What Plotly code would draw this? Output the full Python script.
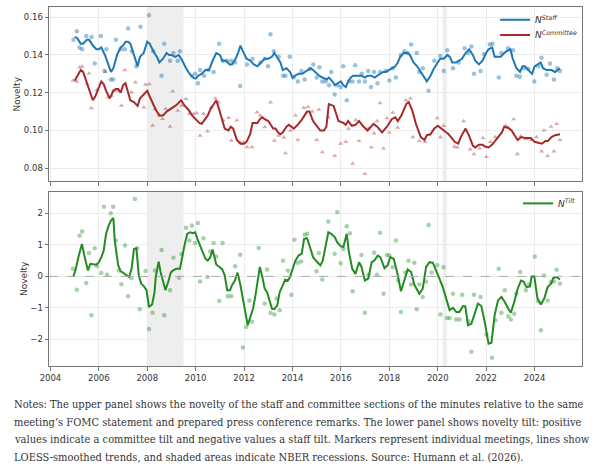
import plotly.graph_objects as go
from plotly.subplots import make_subplots

# LOESS lines (fractional year, value)
staff_line_x = [2005.0, 2005.1, 2005.25, 2005.35, 2005.5, 2005.6, 2005.75, 2005.9, 2006.0, 2006.1, 2006.25, 2006.4,
                2006.5, 2006.6, 2006.75, 2006.9, 2007.0, 2007.1, 2007.2, 2007.3, 2007.45, 2007.6, 2007.7, 2007.85,
                2008.0, 2008.1, 2008.25, 2008.4, 2008.5, 2008.65, 2008.8, 2008.9, 2009.0, 2009.15, 2009.3, 2009.45,
                2009.6, 2009.75, 2009.9, 2010.0, 2010.1, 2010.25, 2010.4, 2010.55, 2010.7, 2010.85, 2011.0, 2011.1,
                2011.25, 2011.4, 2011.5, 2011.65, 2011.75, 2011.85, 2011.95, 2012.1, 2012.25, 2012.4, 2012.55,
                2012.7, 2012.85, 2013.0, 2013.15, 2013.25, 2013.4, 2013.5, 2013.6, 2013.75, 2013.9, 2014.0, 2014.1,
                2014.25, 2014.4, 2014.5, 2014.6, 2014.75, 2014.85, 2015.0, 2015.1, 2015.25, 2015.4, 2015.5, 2015.65,
                2015.75, 2015.85, 2016.0, 2016.1, 2016.2, 2016.3, 2016.4, 2016.5, 2016.6, 2016.75, 2016.85, 2017.0,
                2017.1, 2017.25, 2017.4, 2017.5, 2017.65, 2017.75, 2017.85, 2018.0, 2018.1, 2018.25, 2018.35,
                2018.45, 2018.6, 2018.75, 2018.85, 2019.0, 2019.15, 2019.3, 2019.45, 2019.55, 2019.7, 2019.85,
                2020.0, 2020.1, 2020.25, 2020.4, 2020.5, 2020.6, 2020.75, 2020.85, 2021.0, 2021.15, 2021.3, 2021.45,
                2021.55, 2021.7, 2021.85, 2022.0, 2022.1, 2022.25, 2022.35, 2022.5, 2022.6, 2022.75, 2022.85,
                2023.0, 2023.1, 2023.25, 2023.4, 2023.5, 2023.6, 2023.75, 2023.9, 2024.0, 2024.1, 2024.25, 2024.35,
                2024.5, 2024.7, 2024.85, 2025.05]
staff_line_y = [0.1496, 0.149, 0.146, 0.146, 0.148, 0.148, 0.145, 0.143, 0.143, 0.144, 0.140, 0.135,
                0.131, 0.133, 0.140, 0.144, 0.145, 0.147, 0.147, 0.146, 0.140, 0.134, 0.139, 0.141,
                0.147, 0.146, 0.142, 0.139, 0.136, 0.138, 0.141, 0.140, 0.140, 0.139, 0.140, 0.137,
                0.133, 0.130, 0.128, 0.1275, 0.129, 0.130, 0.132, 0.132, 0.137, 0.141, 0.140, 0.137,
                0.137, 0.135, 0.135, 0.138, 0.141, 0.145, 0.142, 0.138, 0.137, 0.135, 0.134,
                0.136, 0.138, 0.138, 0.139, 0.141, 0.138, 0.136, 0.132, 0.133, 0.131, 0.128, 0.129,
                0.130, 0.130, 0.131, 0.132, 0.133, 0.132, 0.130, 0.129, 0.128, 0.127, 0.128, 0.126,
                0.124, 0.125, 0.126, 0.124, 0.123, 0.126, 0.128, 0.129, 0.129, 0.129, 0.129, 0.128,
                0.129, 0.129, 0.128, 0.129, 0.130, 0.131, 0.131, 0.132, 0.133, 0.134, 0.136,
                0.139, 0.141, 0.141, 0.140, 0.136, 0.134, 0.131, 0.128, 0.126, 0.129, 0.133,
                0.136, 0.138, 0.138, 0.140, 0.139, 0.136, 0.136, 0.137, 0.138, 0.141, 0.143, 0.140,
                0.137, 0.135, 0.137, 0.141, 0.143, 0.144, 0.139, 0.139, 0.139, 0.141, 0.142,
                0.143, 0.138, 0.133, 0.131, 0.134, 0.134, 0.132, 0.130, 0.134, 0.135, 0.136, 0.133,
                0.132, 0.132, 0.131, 0.133]

committee_line_x = [2005.0, 2005.1, 2005.25, 2005.35, 2005.45, 2005.6, 2005.75, 2005.85, 2006.0, 2006.1, 2006.2,
                    2006.3, 2006.45, 2006.6, 2006.7, 2006.8, 2006.9, 2007.0, 2007.1, 2007.2, 2007.3, 2007.45,
                    2007.6, 2007.7, 2007.85, 2008.0, 2008.1, 2008.25, 2008.35, 2008.5, 2008.65, 2008.8, 2008.9,
                    2009.0, 2009.15, 2009.25, 2009.4, 2009.55, 2009.7, 2009.85, 2010.0, 2010.15, 2010.25, 2010.4,
                    2010.5, 2010.6, 2010.75, 2010.85, 2010.95, 2011.1, 2011.2, 2011.35, 2011.45, 2011.55, 2011.7,
                    2011.85, 2012.0, 2012.1, 2012.25, 2012.35, 2012.45, 2012.55, 2012.65, 2012.75, 2012.85, 2013.0,
                    2013.1, 2013.2, 2013.3, 2013.4, 2013.5, 2013.6, 2013.75, 2013.85, 2014.05, 2014.25, 2014.4,
                    2014.6, 2014.7, 2014.85, 2015.0, 2015.15, 2015.3, 2015.4, 2015.5, 2015.7, 2015.9, 2016.1,
                    2016.2, 2016.3, 2016.45, 2016.6, 2016.75, 2016.9, 2017.1, 2017.35, 2017.5, 2017.7, 2017.9,
                    2018.1, 2018.25, 2018.35, 2018.5, 2018.7, 2018.8, 2018.95, 2019.1, 2019.3, 2019.45, 2019.55,
                    2019.7, 2019.85, 2020.0, 2020.15, 2020.3, 2020.45, 2020.55, 2020.7, 2020.85, 2020.95, 2021.15,
                    2021.3, 2021.45, 2021.55, 2021.7, 2021.85, 2021.95, 2022.1, 2022.25, 2022.35, 2022.5, 2022.65,
                    2022.75, 2022.9, 2023.05, 2023.15, 2023.3, 2023.45, 2023.6, 2023.75, 2023.85, 2024.0, 2024.15,
                    2024.3, 2024.45, 2024.55, 2024.7, 2024.85, 2025.05]
committee_line_y = [0.1264, 0.1285, 0.132, 0.131, 0.127, 0.121, 0.116, 0.118, 0.123, 0.126, 0.1245,
                    0.121, 0.117, 0.121, 0.122, 0.122, 0.120, 0.124, 0.125, 0.121, 0.116, 0.115,
                    0.113, 0.117, 0.119, 0.121, 0.118, 0.114, 0.111, 0.108, 0.108, 0.110, 0.111,
                    0.112, 0.113, 0.114, 0.116, 0.113, 0.111, 0.108, 0.106, 0.104, 0.1035, 0.106,
                    0.108, 0.111, 0.114, 0.116, 0.112, 0.106, 0.101, 0.100, 0.102, 0.101, 0.095,
                    0.093, 0.093, 0.094, 0.098, 0.104, 0.104, 0.104, 0.106, 0.107, 0.106, 0.105,
                    0.103, 0.101, 0.101, 0.099, 0.098, 0.099, 0.102, 0.103, 0.101, 0.1035, 0.106,
                    0.110, 0.110, 0.105, 0.1025, 0.100, 0.100, 0.102, 0.114, 0.113, 0.105, 0.104,
                    0.103, 0.105, 0.1025, 0.103, 0.105, 0.1025, 0.100, 0.1035, 0.102, 0.099, 0.102,
                    0.106, 0.107, 0.105, 0.108, 0.114, 0.115, 0.1105, 0.1035, 0.0965, 0.095, 0.0975,
                    0.098, 0.101, 0.1025, 0.101, 0.100, 0.098, 0.0965, 0.094, 0.093, 0.0965, 0.101,
                    0.097, 0.092, 0.091, 0.0925, 0.0925, 0.0915, 0.091, 0.0925, 0.094, 0.0965, 0.099,
                    0.102, 0.1015, 0.100, 0.098, 0.095, 0.0965, 0.096, 0.096, 0.096, 0.094, 0.0935,
                    0.093, 0.0945, 0.0945, 0.0965, 0.0975, 0.098]

tilt_line_x = [2004.95, 2005.05, 2005.15, 2005.25, 2005.3, 2005.4, 2005.5, 2005.55, 2005.65, 2005.75, 2005.9, 2006.0,
               2006.1, 2006.2, 2006.3, 2006.4, 2006.5, 2006.6, 2006.65, 2006.72, 2006.8, 2006.9, 2007.0, 2007.15,
               2007.25, 2007.35, 2007.45, 2007.55, 2007.65, 2007.75, 2007.85, 2007.97, 2008.07, 2008.2, 2008.3,
               2008.35, 2008.47, 2008.55, 2008.65, 2008.75, 2008.87, 2008.97, 2009.07, 2009.2, 2009.35, 2009.45,
               2009.55, 2009.65, 2009.77, 2009.88, 2009.98, 2010.07, 2010.18, 2010.28, 2010.4, 2010.5, 2010.6,
               2010.7, 2010.85, 2010.98, 2011.1, 2011.2, 2011.3, 2011.42, 2011.5, 2011.62, 2011.73, 2011.85,
               2011.95, 2012.1, 2012.15, 2012.25, 2012.37, 2012.47, 2012.57, 2012.65, 2012.75, 2012.85, 2012.95,
               2013.05, 2013.15, 2013.25, 2013.37, 2013.47, 2013.57, 2013.7, 2013.8, 2013.9, 2014.03, 2014.12,
               2014.25, 2014.38, 2014.48, 2014.6, 2014.7, 2014.85, 2015.0, 2015.15, 2015.25, 2015.35, 2015.48,
               2015.6, 2015.75, 2015.85, 2016.0, 2016.1, 2016.24, 2016.33, 2016.47, 2016.6, 2016.75, 2016.85,
               2016.99, 2017.13, 2017.27, 2017.38, 2017.52, 2017.63, 2017.8, 2017.93, 2018.04, 2018.18, 2018.32,
               2018.48, 2018.62, 2018.76, 2018.9, 2019.03, 2019.24, 2019.38, 2019.52, 2019.66, 2019.8, 2019.94,
               2020.07, 2020.21, 2020.35, 2020.49, 2020.63, 2020.77, 2020.9, 2021.04, 2021.14, 2021.25, 2021.39,
               2021.52, 2021.66, 2021.8, 2021.94, 2022.1, 2022.22, 2022.35, 2022.49, 2022.63, 2022.77, 2022.91,
               2023.02, 2023.16, 2023.3, 2023.44, 2023.54, 2023.67, 2023.81, 2023.88, 2023.99, 2024.12, 2024.26,
               2024.4, 2024.54, 2024.68, 2024.77, 2024.91, 2025.05]
tilt_line_y = [0.0, 0.24, 0.6, 0.93, 1.03, 0.66, 0.35, 0.19, 0.4, 0.38, 0.37, 0.45,
               0.6, 0.82, 1.35, 1.6, 1.77, 1.85, 1.19, 0.77, 0.35, 0.16, 0.12, 0.03,
               -0.02, 0.24, 0.87, 0.89, 0.03, -0.23, -0.3, -0.44, -0.97, -0.89, -0.5,
               -0.02, 0.47, 0.14, -0.18, -0.44, -0.16, 0.12, 0.19, 0.24, 0.24, 0.66,
               1.03, 1.35, 1.4, 1.37, 1.4, 1.19, 0.98, 0.77, 0.56, 0.5, 0.6,
               0.85, 0.38, 0.3, 0.22, 0.03, -0.44, -0.44, -0.28, -0.13, 0.12, -0.28,
               -0.76, -1.34, -1.55, -1.28, -1.02, -0.6, -0.02, 0.3, 0.0, -0.39, -0.5,
               -0.76, -1.02, -1.04, -0.92, -0.5, -0.34, -0.1, -0.14, -0.02, 0.3, 0.5,
               0.66, 0.72, 1.19, 1.21, 0.98, 0.61, 0.47, 0.35, 0.5, 0.93, 1.4,
               1.35, 1.24, 1.08, 0.95, 0.93, 1.35, 0.77, 0.24, 0.08, 0.45, 0.3,
               -0.13, -0.07, 0.45, 0.5, 0.66, 0.61, 0.26, 0.35, 0.61, 0.56, 0.14,
               -0.47, -0.13, 0.22, 0.14, -0.26, -0.55, -0.39, 0.3, 0.45, 0.43, 0.19,
               -0.07, -0.34, -0.7, -1.07, -1.0, -1.13, -1.13, -0.94, -0.95, -1.55, -1.5,
               -1.18, -0.86, -0.94, -1.44, -2.13, -2.1, -1.23, -0.76, -0.65, -0.81, -1.02,
               -1.15, -0.81, -0.39, -0.13, -0.16, -0.34, -0.32, 0.0, 0.0, -0.7, -0.89,
               -0.7, -0.34, -0.23, -0.05, -0.02, -0.1]

# individual meetings (markers)
staff_pts_x = [2004.95, 2005.09, 2005.2, 2005.31, 2005.48, 2005.7, 2005.83, 2006.08, 2006.23, 2006.31, 2006.49,
               2006.59, 2006.7, 2006.9, 2007.07, 2007.21, 2007.36, 2007.55, 2007.72, 2008.07, 2008.25, 2008.59,
               2008.7, 2008.94, 2009.08, 2009.26, 2009.35, 2009.84, 2009.98, 2010.09, 2010.18, 2010.35, 2010.53,
               2010.74, 2010.97, 2011.12, 2011.29, 2011.47, 2011.63, 2011.84, 2012.12, 2012.35, 2012.67, 2012.85,
               2012.99, 2013.09, 2013.23, 2013.43, 2013.61, 2013.71, 2013.89, 2014.05, 2014.22, 2014.37, 2014.5,
               2014.71, 2014.86, 2015.0, 2015.11, 2015.23, 2015.37, 2015.51, 2015.6, 2015.74, 2015.85, 2015.99,
               2016.09, 2016.24, 2016.34, 2016.48, 2016.59, 2016.75, 2016.86, 2016.99, 2017.13, 2017.24, 2017.37,
               2017.51, 2017.62, 2017.86, 2018.0, 2018.14, 2018.27, 2018.48, 2018.62, 2018.76, 2018.9, 2019.13,
               2019.24, 2019.38, 2019.62, 2019.86, 2020.11, 2020.25, 2020.39, 2020.63, 2020.86, 2021.11, 2021.25,
               2021.39, 2021.5, 2021.77, 2021.91, 2022.15, 2022.26, 2022.52, 2022.63, 2022.91, 2023.11, 2023.25,
               2023.39, 2023.57, 2023.74, 2023.99, 2024.15, 2024.29, 2024.5, 2024.64, 2024.8, 2024.94, 2025.05]
staff_pts_y = [0.148, 0.1525, 0.144, 0.143, 0.150, 0.1495, 0.1355, 0.150, 0.1315, 0.143, 0.127,
               0.127, 0.148, 0.143, 0.143, 0.154, 0.142, 0.134, 0.155, 0.161, 0.142, 0.129,
               0.146, 0.137, 0.141, 0.137, 0.142, 0.129, 0.130, 0.125, 0.132, 0.129, 0.132,
               0.131, 0.146, 0.137, 0.137, 0.137, 0.136, 0.1235, 0.135, 0.138, 0.136, 0.138,
               0.134, 0.151, 0.142, 0.139, 0.129, 0.129, 0.139, 0.128, 0.126, 0.1315, 0.127,
               0.1325, 0.135, 0.128, 0.1335, 0.126, 0.126, 0.124, 0.131, 0.119, 0.124, 0.123,
               0.134, 0.116, 0.126, 0.126, 0.1345, 0.126, 0.130, 0.126, 0.1315, 0.123, 0.131,
               0.125, 0.131, 0.1315, 0.1265, 0.133, 0.128, 0.140, 0.142, 0.141, 0.1455, 0.141,
               0.131, 0.133, 0.121, 0.137, 0.1395, 0.1315, 0.1425, 0.133, 0.136, 0.1435, 0.141,
               0.1445, 0.130, 0.1315, 0.1405, 0.1455, 0.146, 0.128, 0.141, 0.1435, 0.1425, 0.129,
               0.1285, 0.133, 0.1325, 0.126, 0.134, 0.1385, 0.1295, 0.1355, 0.127, 0.133, 0.1315]

committee_pts_x = [2004.93, 2005.09, 2005.2, 2005.31, 2005.51, 2005.59, 2005.69, 2005.92, 2006.27, 2006.38,
                   2006.52, 2006.59, 2006.77, 2006.93, 2007.07, 2007.35, 2007.51, 2007.86, 2007.93, 2008.08,
                   2008.22, 2008.32, 2008.5, 2008.63, 2008.76, 2008.94, 2009.05, 2009.26, 2009.42, 2009.6,
                   2009.74, 2009.91, 2010.04, 2010.18, 2010.32, 2010.49, 2010.64, 2010.81, 2010.94, 2011.15,
                   2011.36, 2011.47, 2011.7, 2011.84, 2011.98, 2012.12, 2012.33, 2012.53, 2012.67, 2012.85,
                   2013.09, 2013.25, 2013.43, 2013.64, 2013.71, 2013.92, 2014.12, 2014.22, 2014.47, 2014.64,
                   2014.82, 2015.0, 2015.09, 2015.23, 2015.48, 2015.74, 2015.99, 2016.2, 2016.31, 2016.48,
                   2016.61, 2016.75, 2016.99, 2017.13, 2017.26, 2017.37, 2017.49, 2017.62, 2017.76, 2017.9,
                   2018.0, 2018.14, 2018.34, 2018.69, 2018.87, 2018.97, 2019.24, 2019.48, 2019.98, 2020.11,
                   2020.25, 2020.69, 2020.81, 2021.07, 2021.34, 2021.5, 2021.73, 2021.87, 2022.01, 2022.17,
                   2022.38, 2022.8, 2022.91, 2023.14, 2023.29, 2023.43, 2023.64, 2023.85, 2024.08, 2024.29,
                   2024.39, 2024.54, 2024.68, 2024.8, 2024.91, 2025.05]
committee_pts_y = [0.1264, 0.1259, 0.1334, 0.1339, 0.1246, 0.1302, 0.1119, 0.1214, 0.1311, 0.1175,
                   0.1184, 0.1211, 0.1211, 0.1132, 0.1320, 0.1202, 0.1255, 0.1123, 0.1243, 0.1246,
                   0.1026, 0.1114, 0.1079, 0.1061, 0.1114, 0.1021, 0.1207, 0.1105, 0.1132, 0.1167,
                   0.1088, 0.1088, 0.1092, 0.0973, 0.1088, 0.0996, 0.1123, 0.1170, 0.1149, 0.1053,
                   0.1067, 0.0947, 0.1053, 0.0938, 0.0938, 0.0912, 0.0912, 0.1097, 0.1079, 0.1018,
                   0.1149, 0.0947, 0.0973, 0.0964, 0.0880, 0.1000, 0.108, 0.095, 0.112, 0.1125,
                   0.110, 0.095, 0.111, 0.0885, 0.107, 0.0865, 0.093, 0.094, 0.101, 0.0825,
                   0.1055, 0.0945, 0.077, 0.101, 0.091, 0.0985, 0.105, 0.1145, 0.0905, 0.1065,
                   0.099, 0.1095, 0.1015, 0.116, 0.117, 0.0965, 0.0945, 0.094, 0.1065, 0.0965,
                   0.1025, 0.0915, 0.091, 0.105, 0.090, 0.0875, 0.0905, 0.096, 0.086, 0.094,
                   0.0965, 0.1025, 0.1015, 0.106, 0.0875, 0.097, 0.0955, 0.095, 0.0965, 0.089,
                   0.100, 0.0865, 0.102, 0.089, 0.1035, 0.095]

tilt_pts_x = [2004.93, 2005.09, 2005.2, 2005.31, 2005.48, 2005.59, 2005.69, 2005.83, 2005.92, 2006.1, 2006.21,
              2006.34, 2006.49, 2006.59, 2006.7, 2006.82, 2006.93, 2007.08, 2007.21, 2007.35, 2007.49, 2007.58,
              2007.69, 2007.93, 2008.07, 2008.22, 2008.32, 2008.59, 2008.7, 2008.94, 2009.08, 2009.31, 2009.42,
              2009.6, 2009.74, 2009.84, 2009.98, 2010.09, 2010.18, 2010.32, 2010.49, 2010.6, 2010.74, 2010.85,
              2010.97, 2011.11, 2011.33, 2011.47, 2011.63, 2011.84, 2011.95, 2012.09, 2012.22, 2012.33, 2012.6,
              2012.85, 2012.95, 2013.09, 2013.25, 2013.34, 2013.47, 2013.61, 2013.81, 2013.95, 2014.08, 2014.22,
              2014.36, 2014.5, 2014.61, 2014.99, 2015.09, 2015.23, 2015.48, 2015.74, 2015.85, 2015.99, 2016.1,
              2016.24, 2016.37, 2016.48, 2016.85, 2016.99, 2017.13, 2017.37, 2017.49, 2017.62, 2017.76, 2017.9,
              2018.0, 2018.14, 2018.27, 2018.37, 2018.48, 2018.66, 2018.79, 2018.9, 2019.03, 2019.13, 2019.24,
              2019.38, 2019.52, 2019.62, 2019.75, 2019.98, 2020.11, 2020.24, 2020.38, 2020.49, 2020.63, 2020.76,
              2020.9, 2021.01, 2021.27, 2021.39, 2021.5, 2021.77, 2022.01, 2022.24, 2022.38, 2022.52, 2022.63,
              2022.77, 2022.91, 2023.02, 2023.16, 2023.25, 2023.41, 2023.64, 2023.78, 2024.01, 2024.15, 2024.26,
              2024.39, 2024.54, 2024.68, 2024.8, 2024.91, 2025.05]
tilt_pts_y = [0.24, -0.42, 1.29, 1.42, -0.21, 0.74, -1.23, 0.89, 0.32, 0.11, 2.21,
              0.05, 2.0, 2.21, 1.14, 0.19, -0.25, 0.98, -0.63, -0.05, 2.45, 0.89,
              -1.04, 0.17, -1.67, -1.15, 0.19, 0.84, -1.23, -0.44, 0.59, -0.04, 0.71,
              1.54, 1.14, 1.61, 1.06, 1.69, -0.16, 1.21, -0.02, 0.79, 1.06, 0.63,
              -0.78, 1.06, -0.63, -0.63, 0.32, 0.69, -2.25, -1.6, -0.76, -1.44, 0.9,
              -0.86, 0.22, -1.16, -1.21, -0.7, -1.07, 0.5, 0.19, -0.58, 1.16, 0.43,
              0.47, 1.32, 1.35, 0.16, 0.74, -0.1, 1.74, 0.72, 2.03, 0.42, 0.87,
              1.59, 1.37, -0.47, 0.68, -1.15, 0.05, 0.75, 0.05, 1.38, -0.55, 0.68,
              0.66, 0.29, 1.14, -0.13, -1.13, 0.12, 0.5, -0.26, 0.43, -1.04, -0.26,
              -0.65, -0.16, 1.63, 0.12, 0.35, -1.21, 0.29, -1.32, -1.32, -0.55, -1.37,
              -1.37, -0.58, -1.42, -2.39, -0.58, -0.65, -1.84, -2.58, -1.39, 0.24, -1.15,
              -0.44, -1.26, -1.37, -1.18, -0.55, 0.14, -0.44, -0.26, 0.63, -0.79, -1.71,
              0.03, -0.76, -0.18, -0.16, 0.21, -0.23]

# NBER recessions (start, end) in fractional years
recessions = [(2008.0, 2009.5), (2020.2, 2020.38)]

year_ticks = [2004, 2006, 2008, 2010, 2012, 2014, 2016, 2018, 2020, 2022, 2024]

notes_lines = [
    "Notes: The upper panel shows the novelty of the staff and committee sections of the minutes relative to the same",
    "meeting\u2019s FOMC statement and prepared press conference remarks. The lower panel shows novelty tilt: positive",
    "values indicate a committee tilt and negative values a staff tilt. Markers represent individual meetings, lines show",
    "LOESS-smoothed trends, and shaded areas indicate NBER recessions. Source: Humann et al. (2026).",
]

BLUE = "#1f77b4"
RED = "#a52a2a"
GREEN = "#228b22"

fig = make_subplots(rows=2, cols=1, shared_xaxes=True, vertical_spacing=0.03)

fig.add_trace(go.Scatter(x=staff_pts_x, y=staff_pts_y, mode="markers", showlegend=False,
                         marker=dict(color=BLUE, size=4.5, opacity=0.45)), row=1, col=1)
fig.add_trace(go.Scatter(x=committee_pts_x, y=committee_pts_y, mode="markers", showlegend=False,
                         marker=dict(color=RED, size=4.5, symbol="triangle-up", opacity=0.4)), row=1, col=1)
fig.add_trace(go.Scatter(x=staff_line_x, y=staff_line_y, mode="lines", name="<i>N</i><sup><i>Staff</i></sup>",
                         legend="legend", line=dict(color=BLUE, width=2)), row=1, col=1)
fig.add_trace(go.Scatter(x=committee_line_x, y=committee_line_y, mode="lines",
                         name="<i>N</i><sup><i>Committee</i></sup>", legend="legend3",
                         line=dict(color=RED, width=2)), row=1, col=1)

fig.add_trace(go.Scatter(x=tilt_pts_x, y=tilt_pts_y, mode="markers", showlegend=False,
                         marker=dict(color=GREEN, size=4.5, opacity=0.4)), row=2, col=1)
fig.add_trace(go.Scatter(x=tilt_line_x, y=tilt_line_y, mode="lines", name="<i>N</i><sup><i>Tilt</i></sup>",
                         legend="legend2", line=dict(color=GREEN, width=2)), row=2, col=1)

for start, end in recessions:
    fig.add_vrect(x0=start, x1=end, row="all", col=1, fillcolor="#d9d9d9", opacity=0.45,
                  line_width=0, layer="below")

fig.add_hline(y=0, row=2, col=1, line=dict(color="#aaaaaa", width=1, dash="dash"))

axis_style = dict(showline=True, mirror=True, linecolor="#777777", linewidth=1, gridcolor="#ececec",
                  ticks="outside", ticklen=3.5, tickcolor="#777777", zeroline=False, automargin=False,
                  tickfont=dict(size=8.5, color="#333333"))

fig.update_xaxes(range=[2003.94, 2025.96], tickvals=year_ticks, **axis_style)
fig.update_yaxes(title_text="Novelty", title_font=dict(size=9, color="#333333"), title_standoff=1, **axis_style)
fig.update_yaxes(range=[0.073, 0.1654], dtick=0.02, tickformat=".2f", row=1, col=1)
fig.update_yaxes(range=[-2.84, 2.69], dtick=1, row=2, col=1)
fig.update_layout(yaxis=dict(domain=[0.514, 1.0]), yaxis2=dict(domain=[0.0, 0.486]))

legend_style = dict(xanchor="left", yanchor="top", bgcolor="rgba(255,255,255,0)",
                    font=dict(size=9, color="#333333"), itemwidth=30, tracegroupgap=0)
fig.update_layout(
    width=600, height=475,
    margin=dict(l=49, r=18, t=6, b=109),
    paper_bgcolor="white", plot_bgcolor="white",
    font=dict(family="DejaVu Sans", color="#333333"),
    legend=dict(x=0.837, y=1.002, **legend_style),
    legend3=dict(x=0.837, y=0.96, **legend_style),
    legend2=dict(x=0.88, y=0.492, **legend_style),
)

for i, line in enumerate(notes_lines):
    fig.add_annotation(text=line, xref="paper", yref="paper", x=-0.069, y=-0.106 - i * 0.05,
                       xanchor="left", yanchor="middle", showarrow=False, align="left",
                       font=dict(family="DejaVu Serif Condensed", size=11, color="#333333"))

fig.write_html("out.html", config={"displayModeBar": False},
               post_script="document.body.style.margin='0px';")
